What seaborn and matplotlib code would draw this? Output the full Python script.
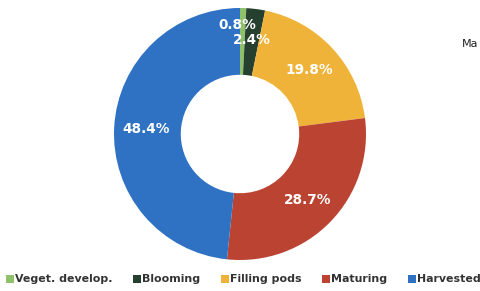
import matplotlib
matplotlib.use("Agg")
import matplotlib.pyplot as plt
import seaborn as sns
from matplotlib.lines import Line2D

stages = ['Veget. develop.', 'Blooming', 'Filling pods', 'Maturing', 'Harvested']
shares = [0.8, 2.4, 19.8, 28.7, 48.4]
colors = ['#8fc06a', '#26402f', '#f0b33a', '#bb4332', '#2f72c4']

sns.set_theme(style='white')
plt.rcParams['font.family'] = ['DejaVu Sans']

fig = plt.figure(figsize=(4.8, 2.91), dpi=100)
ax = fig.add_axes([(240 - 126) / 480, (291 - 134 - 126) / 291, 252 / 480, 252 / 291])

wedges, texts, autotexts = ax.pie(
    shares, colors=colors, startangle=90, counterclock=False,
    autopct='%1.1f%%', pctdistance=0.75,
    wedgeprops=dict(width=0.53, linewidth=0),
    textprops=dict(color='white', fontsize=9.8, fontweight='bold'))

# push the tiny slice label outward so it doesn't sit on the next one
x, y = autotexts[0].get_position()
autotexts[0].set_position((x * 1.15 - 0.04, y * 1.15))
ax.set_xlim(-1, 1)
ax.set_ylim(-1, 1)
ax.set_aspect('equal')

handles = [Line2D([0], [0], marker='s', linestyle='', markersize=6,
                  markerfacecolor=c, markeredgewidth=0) for c in colors]
leg = fig.legend(handles, stages, loc='center left', bbox_to_anchor=(-0.007, 0.04),
                 ncol=5, frameon=False, handlelength=0.6, handletextpad=0.2,
                 columnspacing=1.9, prop=dict(size=7.9, weight='bold'))
for t in leg.get_texts():
    t.set_color('#333333')

fig.text(0.962, 0.85, 'Ma', fontsize=8, color='#222222', va='center', ha='left')

fig.savefig('out.png', dpi=100)
